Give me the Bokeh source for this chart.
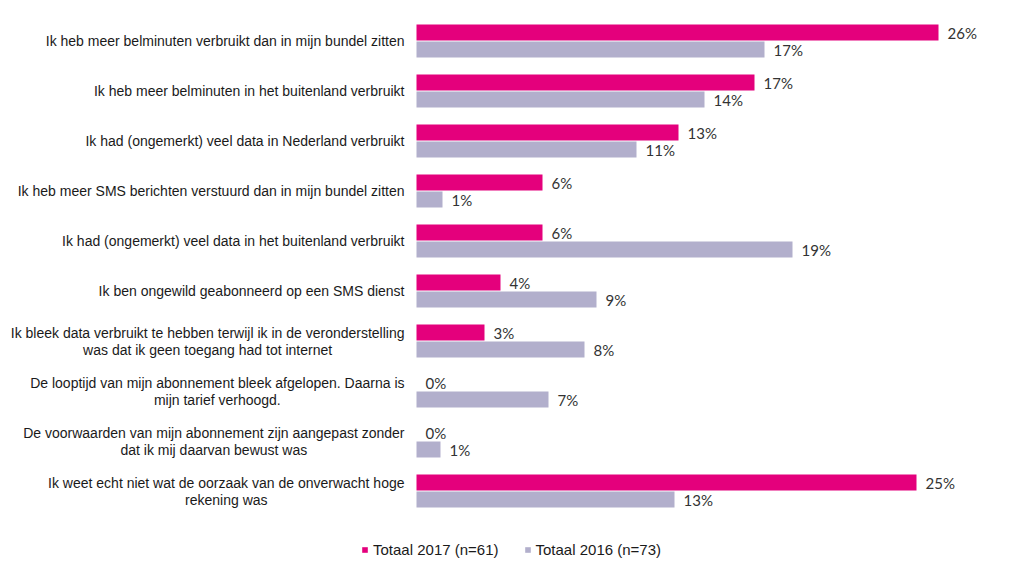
from bokeh.plotting import figure
from bokeh.models import ColumnDataSource, Range1d, Legend, LegendItem, LabelSet
from bokeh.transform import dodge
from bokeh.core.properties import value
from bokeh.embed import file_html
from bokeh.resources import INLINE

categories = [
    "Ik heb meer belminuten verbruikt dan in mijn bundel zitten",
    "Ik heb meer belminuten in het buitenland verbruikt",
    "Ik had (ongemerkt) veel data in Nederland verbruikt",
    "Ik heb meer SMS berichten verstuurd dan in mijn bundel zitten",
    "Ik had (ongemerkt) veel data in het buitenland verbruikt",
    "Ik ben ongewild geabonneerd op een SMS dienst",
    "Ik bleek data verbruikt te hebben terwijl ik in de veronderstelling\nwas dat ik geen toegang had tot internet",
    "De looptijd van mijn abonnement bleek afgelopen. Daarna is\nmijn tarief verhoogd.",
    "De voorwaarden van mijn abonnement zijn aangepast zonder\ndat ik mij daarvan bewust was",
    "Ik weet echt niet wat de oorzaak van de onverwacht hoge\nrekening was",
]
totaal_2017 = [26.1, 16.9, 13.1, 6.3, 6.3, 4.2, 3.4, 0.0, 0.0, 25.0]
totaal_2016 = [17.4, 14.4, 11.0, 1.3, 18.8, 9.0, 8.4, 6.6, 1.2, 12.9]
series_names = ["Totaal 2017 (n=61)", "Totaal 2016 (n=73)"]
colors = ["#E4007C", "#B2AFCC"]

# approximate Arial advance widths (per 1000 em) to centre two-line labels
W = dict(zip("abcdefghijklmnopqrstuvwxyz", [556, 556, 500, 556, 556, 278, 556, 556, 222, 222, 500, 222, 833,
                                            556, 556, 556, 556, 333, 500, 278, 556, 500, 722, 500, 500, 500]))
W.update({" ": 278, ".": 278, "(": 333, ")": 333, "I": 278, "D": 722, "M": 833, "S": 667, "N": 722})
FS = 14
STANDOFF = 12
LINE_STEP = 0.17  # half the line pitch, in category units (50 px per category)


def text_w(s):
    return sum(W.get(ch, 556) for ch in s) * FS / 1000.0


n = len(categories)
idx = list(range(n))

# one label row per text line
ln_text, ln_y, ln_align, ln_xoff = [], [], [], []
for i, c in enumerate(categories):
    lines = c.split("\n")
    if len(lines) == 1:
        ln_text.append(c)
        ln_y.append(i)
        ln_align.append("right")
        ln_xoff.append(-STANDOFF)
    else:
        half = max(text_w(l) for l in lines) / 2.0
        for k, l in enumerate(lines):
            ln_text.append(l)
            ln_y.append(i + (2 * k - (len(lines) - 1)) * LINE_STEP)
            ln_align.append("center")
            ln_xoff.append(-STANDOFF - half)

lab_src = ColumnDataSource(dict(text=ln_text, y=ln_y, x=[0] * len(ln_text),
                                align=ln_align, xoff=ln_xoff))

src = ColumnDataSource(dict(
    idx=idx,
    v17=totaal_2017,
    v16=totaal_2016,
    l17=[f"{round(v)}%" for v in totaal_2017],
    l16=[f"{round(v)}%" for v in totaal_2016],
))

# frame covers the whole canvas; 20 px per percentage point, zero at 416 px
p = figure(width=1008, height=562, output_backend="svg", toolbar_location=None,
           x_range=Range1d(-20.8, 29.6), y_range=Range1d(n - 1 + 1.43, -0.81),
           min_border_left=0, min_border_right=0, min_border_top=0, min_border_bottom=0)

r17 = p.hbar(y=dodge("idx", -0.17), right="v17", left=0, height=0.32,
             fill_color=colors[0], line_color=None, source=src)
r16 = p.hbar(y=dodge("idx", 0.17), right="v16", left=0, height=0.32,
             fill_color=colors[1], line_color=None, source=src)

for col, lab, off in [("v17", "l17", -0.17), ("v16", "l16", 0.17)]:
    p.text(x=col, y=dodge("idx", off), text=lab, source=src,
           x_offset=9, text_baseline="middle", text_align="left",
           text_font=value("Lato"), text_font_size="15px", text_color="#333333")

cat_labels = LabelSet(x="x", y="y", text="text", source=lab_src, x_offset="xoff",
                      text_align="align", text_baseline="middle",
                      text_font=value("Liberation Sans"), text_font_size=value(f"{FS}px"),
                      text_color="#1a1a1a")
p.add_layout(cat_labels)

p.xaxis.visible = False
p.yaxis.visible = False
p.xgrid.visible = False
p.ygrid.visible = False
p.outline_line_color = None

legend = Legend(items=[LegendItem(label=series_names[0], renderers=[r17]),
                       LegendItem(label=series_names[1], renderers=[r16])],
                orientation="horizontal", location=(361, 4),
                glyph_width=7, glyph_height=7, label_height=16,
                label_text_font="Liberation Sans",
                label_text_font_size="15px", label_text_color="#1a1a1a",
                spacing=25, padding=0, margin=0, border_line_color=None,
                background_fill_alpha=0, label_standoff=5)
p.add_layout(legend, "center")

open("out.html", "w").write(file_html(p, INLINE))
